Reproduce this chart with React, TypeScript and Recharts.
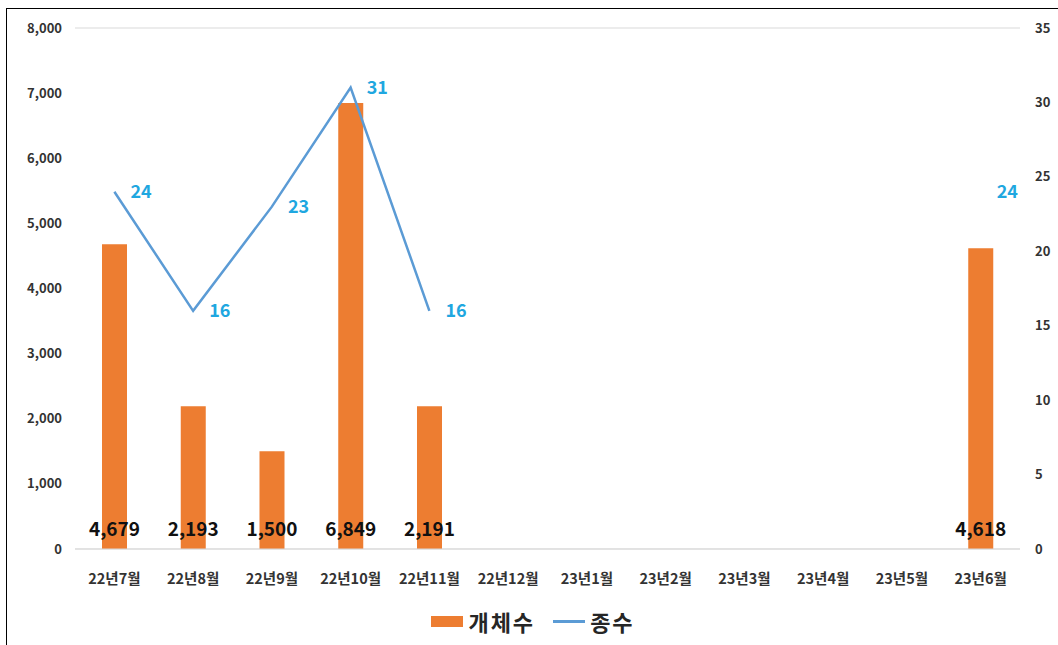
import React from 'react';
import { ComposedChart, Bar, Line, XAxis, YAxis, CartesianGrid, Legend, LabelList } from 'recharts';

const months = ['22년7월', '22년8월', '22년9월', '22년10월', '22년11월', '22년12월', '23년1월', '23년2월', '23년3월', '23년4월', '23년5월', '23년6월'];
const individuals = [4679, 2193, 1500, 6849, 2191, null, null, null, null, null, null, 4618];
const species = [24, 16, 23, 31, 16, null, null, null, null, null, null, 24];
const leftTicks = [0, 1000, 2000, 3000, 4000, 5000, 6000, 7000, 8000];
const rightTicks = [0, 5, 10, 15, 20, 25, 30, 35];

const data = months.map((m, i) => ({ month: m, count: individuals[i], kinds: species[i] }));

const FONT = '"Noto Sans CJK KR", "Noto Sans", sans-serif';
const ORANGE = '#ED7D31';
const BLUE = '#5B9BD5';
const fmt = (v: number) => v.toLocaleString('en-US');

const BarValue = (props: any) => {
    const { x, y, width, height, value } = props;
    if (value == null) return null;
    return (
        <text x={x + width / 2} y={y + height - 13} textAnchor="middle" fontSize={19} fontWeight="bold" fill="#111" fontFamily={FONT}>
            {fmt(value)}
        </text>
    );
};

const LegendBox = () => (
    <div style={{ display: 'flex', justifyContent: 'center', alignItems: 'center', fontFamily: FONT, fontSize: 22, fontWeight: 'bold', color: '#262626', paddingLeft: 8 }}>
        <span style={{ display: 'inline-block', width: 32, height: 11, background: ORANGE, marginRight: 5 }} />
        <span style={{ marginRight: 18, letterSpacing: 2 }}>개체수</span>
        <span style={{ display: 'inline-block', width: 32, height: 3, background: BLUE, marginRight: 5 }} />
        <span style={{ letterSpacing: 2 }}>종수</span>
    </div>
);

const App: React.FC = () => {
    return (
        <div style={{ position: 'absolute', left: 0, top: 0, width: 1058, height: 645, overflow: 'hidden', background: '#fff' }}>
            <div style={{ position: 'absolute', left: 6, top: 8, width: 1070, height: 660, border: '1px solid #000' }} />
            <div style={{ position: 'absolute', left: 0, top: 0 }}>
                <ComposedChart width={1058} height={645} data={data} margin={{ top: 28, right: 0, bottom: 0, left: 0 }}>
                    <CartesianGrid vertical={false} stroke="#d9d9d9" />
                    <XAxis
                        dataKey="month"
                        axisLine={{ stroke: '#d9d9d9' }}
                        tickLine={false}
                        tickMargin={19}
                        height={64}
                        interval={0}
                        tick={{ fontSize: 14.5, fontWeight: 'bold', fill: '#333', fontFamily: FONT }}
                    />
                    <YAxis
                        yAxisId="left"
                        width={75}
                        domain={[0, 8000]}
                        ticks={leftTicks}
                        tickFormatter={fmt}
                        axisLine={false}
                        tickLine={false}
                        tickMargin={7}
                        tick={{ fontSize: 13, fontWeight: 'bold', fill: '#333', fontFamily: FONT }}
                    />
                    <YAxis
                        yAxisId="right"
                        orientation="right"
                        width={38}
                        domain={[0, 35]}
                        ticks={rightTicks}
                        axisLine={false}
                        tickLine={false}
                        tickMargin={9}
                        tick={{ fontSize: 13, fontWeight: 'bold', fill: '#333', fontFamily: FONT }}
                    />
                    <Legend verticalAlign="bottom" content={<LegendBox />} wrapperStyle={{ bottom: 8 }} />
                    <Bar yAxisId="left" dataKey="count" name="개체수" fill={ORANGE} barSize={25} isAnimationActive={false}>
                        <LabelList dataKey="count" content={<BarValue />} />
                    </Bar>
                    <Line
                        yAxisId="right"
                        dataKey="kinds"
                        name="종수"
                        stroke={BLUE}
                        strokeWidth={2.5}
                        dot={false}
                        activeDot={false}
                        isAnimationActive={false}
                    >
                        <LabelList dataKey="kinds" position="right" offset={16} fill="#1FA7E0" fontSize={18} fontWeight="bold" fontFamily={FONT} />
                    </Line>
                </ComposedChart>
            </div>
        </div>
    );
};

export default App;
